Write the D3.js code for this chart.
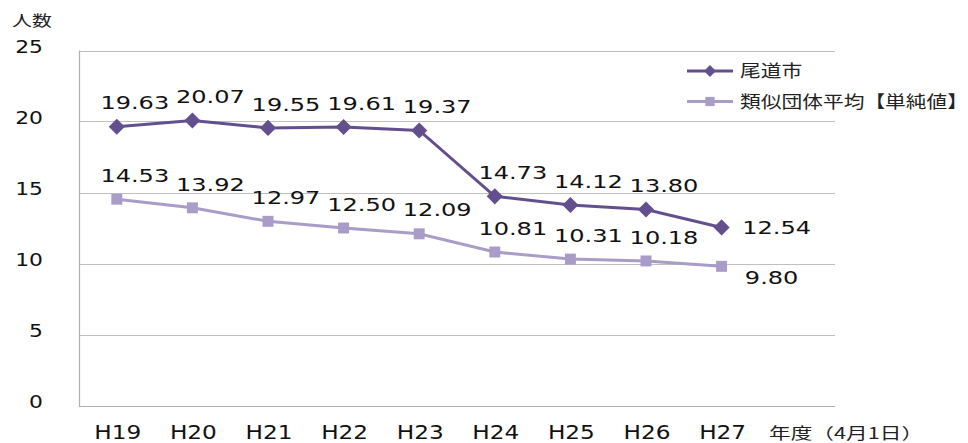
<!DOCTYPE html>
<html><head><meta charset="utf-8">
<script src="https://cdn.jsdelivr.net/npm/d3@7"></script>
<style>body{margin:0;background:#fff}svg{display:block}</style>
</head><body>
<svg id="c" width="968" height="443"></svg>
<script>
const categories = ["H19","H20","H21","H22","H23","H24","H25","H26","H27"];
const onomichi = [19.63,20.07,19.55,19.61,19.37,14.73,14.12,13.80,12.54];
const similarAvg = [14.53,13.92,12.97,12.50,12.09,10.81,10.31,10.18,9.80];
const seriesNames = ["尾道市","類似団体平均【単純値】"];
const yTicks = [0,5,10,15,20,25];
const yTitle = "人数";
const xTitle = "年度（4月1日）";

const colors = ["#644f8e","#a99cc8"];
const svg = d3.select("#c");
const pLeft = 79, pRight = 835, pTop = 50.5, pBottom = 405.5;
const y = d3.scaleLinear().domain([0,25]).range([pBottom, pTop]);
const xBand = d3.scaleBand().domain(categories.concat([""])).range([pLeft,pRight]);
const x = c => xBand(c) + xBand.bandwidth()/2;

const LAT = "DejaVu Sans", CJK = "Noto Sans CJK JP";

// gridlines
svg.append("g").selectAll("line").data(yTicks).join("line")
  .attr("x1",pLeft).attr("x2",pRight)
  .attr("y1",d=>Math.round(y(d))+0.5).attr("y2",d=>Math.round(y(d))+0.5)
  .attr("stroke",d=>d===0?"#b0b0b0":"#c0c0c0").attr("stroke-width",1.2);
svg.append("line").attr("x1",pLeft+0.5).attr("x2",pLeft+0.5).attr("y1",pTop).attr("y2",pBottom+0.5)
  .attr("stroke","#b0b0b0").attr("stroke-width",1.2);

// y tick labels
svg.append("g").selectAll("g").data(yTicks).join("g")
  .attr("transform",d=>`translate(43,${y(d)-4}) scale(1.18,1)`)
  .append("text").attr("dy","0.36em").attr("text-anchor","end")
  .style("font-family",LAT).style("font-size","18.5px")
  .attr("fill","#111").text(d=>d);

svg.append("g").attr("transform","translate(12,26) scale(1.33,1)")
  .append("text")
  .style("font-family",CJK).style("font-size","15px")
  .attr("fill","#222").text(yTitle);

// x labels
svg.append("g").selectAll("g").data(categories).join("g")
  .attr("transform",d=>`translate(${x(d)+1},439) scale(1.16,1)`)
  .append("text").attr("text-anchor","middle")
  .style("font-family",LAT).style("font-size","20px")
  .attr("fill","#111").text(d=>d);
svg.append("g").attr("transform","translate(769,439) scale(1.4,1)")
  .append("text")
  .style("font-family",CJK).style("font-size","15.5px")
  .attr("fill","#222").text(xTitle);

const line = d3.line().x((d,i)=>x(categories[i])).y(d=>y(d));
const diamond = d3.symbol().type(d3.symbolSquare).size(130);
const square = d3.symbol().type(d3.symbolSquare).size(120);

const series = [onomichi, similarAvg];
[1,0].forEach(s=>{
  const vals = series[s];
  svg.append("path").datum(vals).attr("d",line).attr("fill","none")
    .attr("stroke",colors[s]).attr("stroke-width",3);
  svg.append("g").selectAll("path").data(vals).join("path")
    .attr("d", s===0?diamond:square)
    .attr("transform",(d,i)=>`translate(${x(categories[i])},${y(d)})`+(s===0?" rotate(45)":""))
    .attr("fill",colors[s]);
});

// data labels
series.forEach((vals,s)=>{
  svg.append("g").selectAll("g").data(vals).join("g")
    .attr("transform",(d,i)=>{
      const last = i===vals.length-1;
      const tx = last ? x(categories[i])+(s===0?55:50) : x(categories[i])+18;
      const ty = last ? y(d)+(s===0?0:11) : y(d)-24;
      return `translate(${tx},${ty}) scale(1.3,1)`;
    })
    .append("text").attr("dy","0.36em").attr("text-anchor","middle")
    .style("font-family",LAT).style("font-size","18.5px")
    .attr("fill","#111").text(d=>d.toFixed(2));
});

// legend
const lg = svg.append("g");
[0,1].forEach(s=>{
  const ly = 71 + s*30.5;
  lg.append("line").attr("x1",687).attr("x2",733).attr("y1",ly).attr("y2",ly)
    .attr("stroke",colors[s]).attr("stroke-width",3);
  lg.append("path").attr("d", d3.symbol().type(d3.symbolSquare).size(s===0?70:85)())
    .attr("transform",`translate(710,${ly})`+(s===0?" rotate(45)":"")).attr("fill",colors[s]);
  lg.append("g").attr("transform",`translate(740,${ly}) scale(1.22,1)`)
    .append("text").attr("dy","0.36em")
    .style("font-family",CJK).style("font-size","17px")
    .attr("fill","#222").text(seriesNames[s]);
});
</script>
</body></html>
